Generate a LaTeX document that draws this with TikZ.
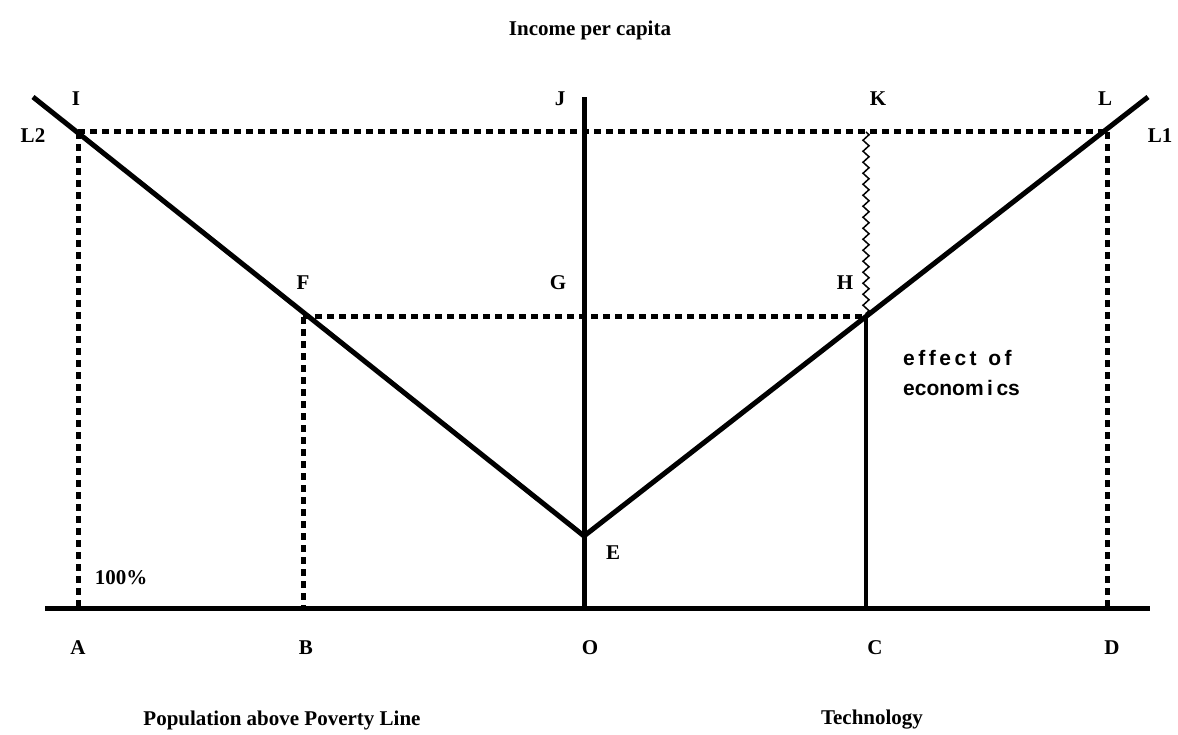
\documentclass[tikz,border=0pt]{standalone}
\usepackage{fontspec}
\setmainfont{Liberation Serif}
\newfontfamily\sansf{Liberation Sans}
\usetikzlibrary{decorations.pathmorphing,calc}
\begin{document}
\begin{tikzpicture}[x=1pt,y=-1pt,
  thickline/.style={line width=5pt},
  dotline/.style={line width=5pt,dash pattern=on 7pt off 5pt},
  lab/.style={font=\fontsize{21}{23}\selectfont\bfseries,inner sep=0pt},
  zig/.style={line width=1.5pt,decorate,decoration={zigzag,segment length=11pt,amplitude=3pt}}]
\useasboundingbox (0,0) rectangle (1178,735);
% points
\coordinate (Aa) at (78,608);
\coordinate (Bb) at (303,608);
\coordinate (Oo) at (584,608);
\coordinate (Cc) at (866,608);
\coordinate (Dd) at (1107,608);
\coordinate (Ee) at (584,536);
\coordinate (Jtop) at (584,97);
\coordinate (Lft) at (33,97);
\coordinate (Rgt) at (1148,97);
\coordinate (Ii) at (78,132);
\coordinate (Ll) at (1107,132);
\coordinate (Kk) at (866,132);
\coordinate (Ff) at (303,317);
\coordinate (Hh) at (866,317);
\coordinate (Xl) at (45,608);
\coordinate (Xr) at (1150,608);
% dotted lines
\draw[dotline] (Ii) -- (Ll);
\draw[dotline] (Ii) -- (Aa);
\draw[dotline] (Ll) -- (Dd);
\draw[dotline] (Ff) -- (Bb);
\draw[dotline] (Ff) -- (Hh);
% solid lines
\draw[thickline] (Xl) -- (Xr);
\draw[thickline] (Oo) -- (Jtop);
\draw[thickline] (Lft) -- (Ee) -- (Rgt);
\draw[line width=3.5pt] (Hh) -- (Cc);
\draw[zig] (Kk) -- (Hh);
% labels
\node[lab] (title) at (590,30) {Income per capita};
\node[lab] (tI) at (76,99) {I};
\node[lab] (tJ) at (560,99) {J};
\node[lab] (tK) at (878,99) {K};
\node[lab] (tL) at (1105,99) {L};
\node[lab] (tL2) at (33,136) {L2};
\node[lab] (tL1) at (1160,136) {L1};
\node[lab] (tF) at (303,283) {F};
\node[lab] (tG) at (558,283) {G};
\node[lab] (tH) at (845,283) {H};
\node[lab] (tE) at (613,553) {E};
\node[lab] (t100) at (121,578) {100\%};
\node[lab] (tA) at (78,648) {A};
\node[lab] (tB) at (306,648) {B};
\node[lab] (tO) at (590,648) {O};
\node[lab] (tC) at (875,648) {C};
\node[lab] (tD) at (1112,648) {D};
\node[lab] (pop) at (282,720) {Population above Poverty Line};
\node[lab] (tech) at (872,720) {Technology};
\node[inner sep=0pt,anchor=west,align=left,font=\sansf\bfseries\fontsize{21}{30}\selectfont] (eff) at (903,373) {e\,f\,f\,e\,c\,t\ \ o\,f\\econom\,i\,cs};
\end{tikzpicture}
\end{document}
